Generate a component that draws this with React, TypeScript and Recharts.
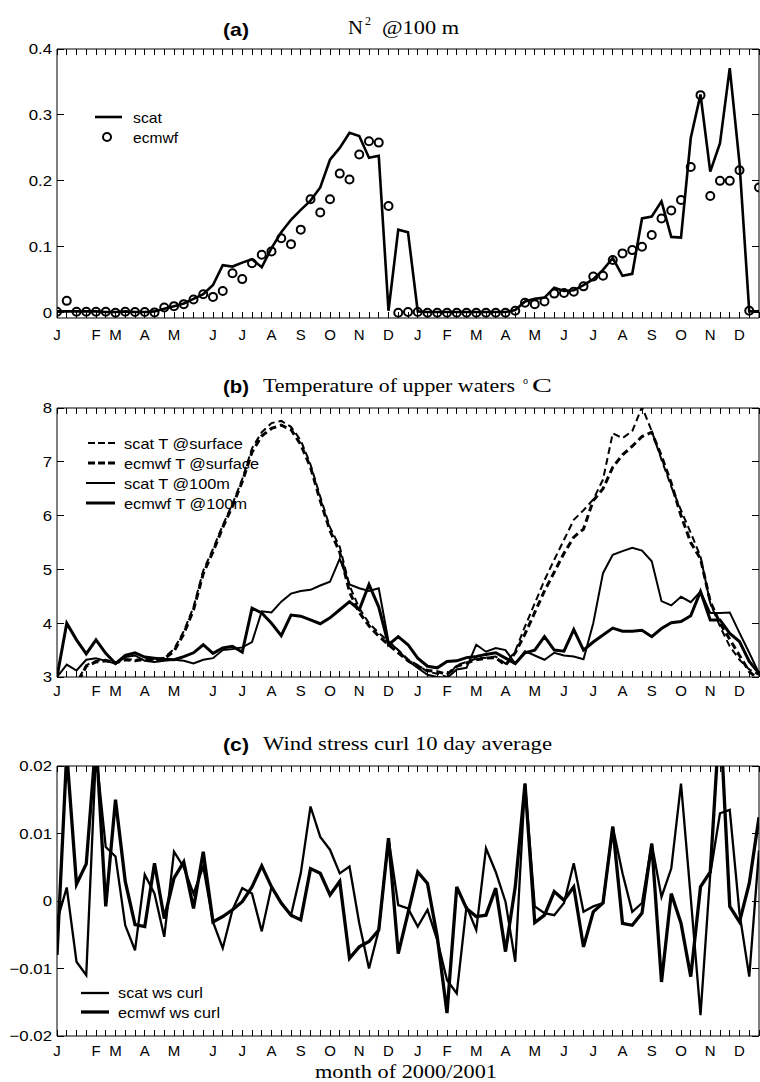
import React from 'react';
import { LineChart, Line, XAxis, YAxis } from 'recharts';

// ---- sample axis: one sample every 10 days, Jan 2000 .. Dec 2001 ----
const monthTicks = [
  { at: 0, label: 'J' }, { at: 4, label: 'F' }, { at: 6, label: 'M' }, { at: 9, label: 'A' },
  { at: 12, label: 'M' }, { at: 16, label: 'J' }, { at: 19, label: 'J' }, { at: 22, label: 'A' },
  { at: 25, label: 'S' }, { at: 28, label: 'O' }, { at: 31, label: 'N' }, { at: 34, label: 'D' },
  { at: 37, label: 'J' }, { at: 40, label: 'F' }, { at: 43, label: 'M' }, { at: 46, label: 'A' },
  { at: 49, label: 'M' }, { at: 52, label: 'J' }, { at: 55, label: 'J' }, { at: 58, label: 'A' },
  { at: 61, label: 'S' }, { at: 64, label: 'O' }, { at: 67, label: 'N' }, { at: 70, label: 'D' },
];

// ---- (a) N^2 @ 100 m ----
const scatN2 = [
  0.002, 0.002, 0.002, 0.002, 0.002, 0.001, 0.001, 0.002, 0.001, 0.001,
  0.002, 0.006, 0.01, 0.014, 0.021, 0.028, 0.042, 0.072, 0.07, 0.076,
  0.081, 0.069, 0.098, 0.122, 0.141, 0.156, 0.17, 0.19, 0.232, 0.25,
  0.273, 0.268, 0.235, 0.238, 0.003, 0.126, 0.122, 0.002, 0.001, 0.001,
  0.001, 0.001, 0.001, 0.001, 0.001, 0.001, 0.001, 0.004, 0.017, 0.021,
  0.023, 0.038, 0.033, 0.034, 0.042, 0.051, 0.065, 0.083, 0.056, 0.059,
  0.143, 0.146, 0.169, 0.115, 0.114, 0.265, 0.331, 0.214, 0.257, 0.371,
  0.227, 0.002, 0.002,
];
const ecmwfN2 = [
  0.0015, 0.018, 0.0015, 0.0015, 0.0015, 0.0015, 0.0, 0.0015, 0.001, 0.001,
  0.0005, 0.008, 0.01, 0.013, 0.02, 0.028, 0.024, 0.033, 0.06, 0.051,
  0.075, 0.088, 0.093, 0.113, 0.104, 0.126, 0.172, 0.152, 0.172, 0.211,
  0.202, 0.24, 0.26, 0.258, 0.162, 0.0, 0.001, 0.001, 0.0, 0.0,
  0.0, 0.0, 0.0, 0.0, 0.0, 0.0, 0.0, 0.003, 0.015, 0.013,
  0.017, 0.029, 0.03, 0.032, 0.04, 0.055, 0.056, 0.08, 0.09, 0.095,
  0.1, 0.118, 0.143, 0.155, 0.171, 0.221, 0.33, 0.177, 0.2, 0.2,
  0.216, 0.003, 0.19,
];
const n2Ticks = [0, 0.1, 0.2, 0.3, 0.4];
const n2Labels = ['0', '0.1', '0.2', '0.3', '0.4'];

// ---- (b) temperature of upper waters ----
const scatTSurf = [
  2.55, 2.65, 2.9, 3.22, 3.3, 3.32, 3.27, 3.33, 3.32, 3.34,
  3.32, 3.36, 3.52, 3.85, 4.3, 4.98, 5.38, 5.82, 6.22, 6.68,
  7.25, 7.55, 7.72, 7.76, 7.65, 7.4, 6.95, 6.35, 5.78, 5.42,
  4.7, 4.28, 4.0, 3.82, 3.66, 3.5, 3.33, 3.22, 3.1, 3.06,
  3.0, 3.22, 3.28, 3.34, 3.36, 3.38, 3.25, 3.48, 3.94, 4.37,
  4.8, 5.18, 5.55, 5.92, 6.1, 6.3, 6.67, 7.53, 7.44, 7.57,
  8.02, 7.57, 7.04, 6.54, 6.1, 5.68, 5.24, 4.37, 3.94, 3.57,
  3.32, 3.14, 3.04,
];
const ecmwfTSurf = [
  2.5, 2.6, 2.85, 3.2, 3.28, 3.3, 3.26, 3.32, 3.3, 3.33,
  3.3, 3.34, 3.48, 3.8, 4.25, 4.92, 5.33, 5.78, 6.18, 6.63,
  7.18, 7.48, 7.62, 7.68, 7.6, 7.32, 6.9, 6.28, 5.72, 5.32,
  4.58, 4.2, 3.95, 3.76, 3.6, 3.45, 3.3, 3.2, 3.12, 3.1,
  3.05, 3.2, 3.26, 3.32, 3.35, 3.36, 3.22, 3.45, 3.8, 4.2,
  4.6, 4.95, 5.3, 5.6, 5.75, 6.28, 6.5, 6.9, 7.13, 7.29,
  7.47, 7.55, 7.1, 6.6, 6.0, 5.5, 5.2, 4.4, 4.0, 3.7,
  3.4, 3.1, 2.95,
];
const scatT100 = [
  3.0, 3.23, 3.12, 3.32, 3.35, 3.3, 3.25, 3.37, 3.4, 3.3,
  3.28, 3.3, 3.32, 3.3, 3.25, 3.32, 3.35, 3.5, 3.52, 3.55,
  3.65, 4.22, 4.2, 4.4, 4.55, 4.6, 4.62, 4.7, 4.77, 5.2,
  4.72, 4.65, 4.6, 4.65, 3.66, 3.5, 3.3, 3.17, 3.04, 3.0,
  2.98, 3.14, 3.17, 3.6, 3.47, 3.54, 3.5, 3.25, 3.48, 3.4,
  3.32, 3.45, 3.4, 3.38, 3.33, 4.0, 4.93, 5.27, 5.34, 5.4,
  5.35, 5.15, 4.41, 4.33, 4.49, 4.39, 4.59, 4.19, 4.19, 4.2,
  3.82, 3.45, 3.07,
];
const ecmwfT100 = [
  3.0, 4.0, 3.69, 3.43, 3.69, 3.44, 3.25, 3.4, 3.45, 3.37,
  3.35, 3.33, 3.32, 3.38, 3.45, 3.6, 3.44, 3.54, 3.57, 3.46,
  4.28, 4.19, 4.0, 3.77, 4.15, 4.13, 4.06, 3.99, 4.1, 4.25,
  4.4, 4.25, 4.72, 4.3, 3.6, 3.75, 3.6, 3.35, 3.2, 3.17,
  3.29, 3.3, 3.36, 3.38, 3.42, 3.45, 3.35, 3.25, 3.45, 3.5,
  3.75, 3.5, 3.48, 3.88, 3.5, 3.65, 3.78, 3.91, 3.85, 3.85,
  3.87, 3.75, 3.9, 4.01, 4.03, 4.14, 4.59, 4.06, 4.06, 3.81,
  3.66, 3.29, 3.07,
];
const tempTicks = [3, 4, 5, 6, 7, 8];
const tempLabels = ['3', '4', '5', '6', '7', '8'];

// ---- (c) wind stress curl, 10 day average ----
const scatCurl = [
  -0.003, 0.002, -0.009, -0.011, 0.022, 0.008, 0.0066, -0.0036, -0.0073, 0.0039,
  0.0011, -0.0053, 0.0073, 0.005, 0.0011, 0.0051, -0.0031, -0.007, -0.0013, 0.0019,
  0.0011, -0.0045, 0.0021, -0.0003, -0.0021, 0.0041, 0.014, 0.0095, 0.0076, 0.0041,
  0.0051, -0.0033, -0.01, -0.0043, 0.0093, -0.0006, -0.0011, -0.0038, -0.0013, -0.0058,
  -0.0117, -0.0137, -0.0008, -0.0043, 0.0078, 0.0043, -0.0001, -0.009, 0.0174, -0.0008,
  -0.0018, -0.0021, -0.0003, 0.0056, -0.0016, -0.0008, -0.0003, 0.011, 0.0041, -0.0016,
  -0.0003, 0.0085, 0.0006, 0.0048, 0.0174, 0.0005, -0.0169, 0.004, 0.013, 0.0135,
  -0.0018, -0.0112, 0.0075,
];
const ecmwfCurl = [
  -0.008, 0.022, 0.0025, 0.0055, 0.024, -0.0008, 0.015, 0.0029, -0.0035, -0.0038,
  0.0056, -0.0026, 0.0034, 0.0058, -0.0011, 0.0073, -0.0031, -0.0023, -0.0013, -0.0001,
  0.0021, 0.0052, 0.0021, -0.0003, -0.0021, -0.0028, 0.0048, 0.0041, 0.0009, 0.0029,
  -0.0085, -0.0068, -0.006, -0.0043, 0.0093, -0.0078, -0.0018, 0.0043, 0.0026, -0.0053,
  -0.0166, 0.0021, -0.0011, -0.0023, -0.0021, 0.0019, -0.0075, 0.0021, 0.0174, -0.0032,
  -0.0021, 0.0014, 0.0001, 0.0021, -0.0068, -0.0016, -0.0003, 0.011, -0.0033, -0.0036,
  -0.0018, 0.0085, -0.012, 0.0011, -0.0033, -0.0112, 0.0021, 0.0043, 0.028, -0.0008,
  -0.0031, 0.0026, 0.0124,
];
const curlTicks = [-0.02, -0.01, 0, 0.01, 0.02];
const curlLabels = ['\u22120.02', '\u22120.01', '0', '0.01', '0.02'];

// ---- table rows for the charts ----
const sampleTicks = scatN2.map((_, i) => i);
const lastSample = sampleTicks[sampleTicks.length - 1];
const rowsA = scatN2.map((v, i) => ({ i, scat: v, ecmwf: ecmwfN2[i] }));
const rowsB = scatTSurf.map((v, i) => ({
  i, scatSurf: v, ecmwfSurf: ecmwfTSurf[i], scat100: scatT100[i], ecmwf100: ecmwfT100[i],
}));
const rowsC = scatCurl.map((v, i) => ({ i, scat: v, ecmwf: ecmwfCurl[i] }));

const SANS = '"Liberation Sans", Arial, Helvetica, sans-serif';
const SERIF = '"Liberation Serif", "Times New Roman", serif';
const AX = { stroke: '#000', strokeWidth: 1 };
const monthAt = new Map(monthTicks.map((m) => [m.at, m.label]));

// plot box geometry shared by the three panels
const PLOT_LEFT = 57;
const PLOT_W = 702;
const X_TICK_PX = 6;
const Y_TICK_PX = 7;
const Y_LABEL_GAP = 5;

const makeMonthTick = () => (props: any) => {
  const { x, y, payload } = props;
  const label = monthAt.get(payload.value);
  if (!label) return <g />;
  return (
    <text x={x} y={y} dy="0.71em" textAnchor="middle" fontFamily={SANS} fontSize={15} fill="#000">
      {label}
    </text>
  );
};

const makeLeftTick = (labels: string[]) => (props: any) => {
  const { x, y, index } = props;
  return (
    <text
      transform={`translate(${x} ${y}) scale(1.12 1)`}
      dy="0.36em"
      textAnchor="end"
      fontFamily={SANS}
      fontSize={15}
      fill="#000"
    >
      {labels[index]}
    </text>
  );
};

const NoTick = () => <g />;

// box frame axes: month labels below, value labels on the left, plain edges top/right
function frameAxes(yDomain: [number, number], yTicks: number[], labels: string[], monthGap: number) {
  return [
    <XAxis
      key="xb" xAxisId="b" dataKey="i" type="number" domain={[0, lastSample]} allowDataOverflow
      ticks={sampleTicks} interval={0} height={20} tickSize={0} tickMargin={monthGap}
      tick={makeMonthTick()} axisLine={AX} tickLine={false}
    />,
    <XAxis
      key="xt" xAxisId="t" orientation="top" dataKey="i" type="number" domain={[0, lastSample]}
      allowDataOverflow ticks={sampleTicks} interval={0} height={1} tickSize={0}
      tick={NoTick} axisLine={AX} tickLine={false}
    />,
    <YAxis
      key="yl" yAxisId="l" type="number" domain={yDomain} allowDataOverflow ticks={yTicks}
      interval={0} width={50} tickSize={0} tickMargin={Y_LABEL_GAP} tick={makeLeftTick(labels)}
      axisLine={AX} tickLine={false}
    />,
    <YAxis
      key="yr" yAxisId="r" orientation="right" type="number" domain={yDomain} allowDataOverflow
      ticks={yTicks} interval={0} width={1} tickSize={0} tick={NoTick} axisLine={AX} tickLine={false}
    />,
  ];
}

// inward tick marks around one plot box (frame decoration), snapped to whole pixels
function FrameTicks(p: { top: number; bottom: number; dom: [number, number]; vals: number[] }) {
  const { top, bottom, dom, vals } = p;
  const right = PLOT_LEFT + PLOT_W;
  const snap = (v: number) => Math.floor(v) + 0.5;
  const segs: string[] = [];
  sampleTicks.forEach((s) => {
    const x = snap(PLOT_LEFT + (s / lastSample) * PLOT_W);
    segs.push(`M${x},${top}V${top + X_TICK_PX}`);
    segs.push(`M${x},${bottom}V${bottom - X_TICK_PX}`);
  });
  vals.forEach((v) => {
    const y = snap(bottom - ((v - dom[0]) / (dom[1] - dom[0])) * (bottom - top));
    segs.push(`M${PLOT_LEFT},${y}H${PLOT_LEFT + Y_TICK_PX}`);
    segs.push(`M${right},${y}H${right - Y_TICK_PX}`);
  });
  return <path d={segs.join('')} stroke="#000" strokeWidth={1.2} fill="none" shapeRendering="crispEdges" />;
}

const ringDot = (p: any) => (
  <circle key={`r${p.index}`} cx={p.cx} cy={p.cy} r={4} fill="none" stroke="#000" strokeWidth={2} />
);

const T = (p: any) => {
  const { x, y, len, size, family = SANS, weight, children } = p;
  return (
    <text
      x={x} y={y} fontSize={size} fontFamily={family} fontWeight={weight} fill="#000"
      textLength={len} lengthAdjust="spacingAndGlyphs"
    >
      {children}
    </text>
  );
};

const domA: [number, number] = [-0.008, 0.4];
const domB: [number, number] = [3, 8];
const domC: [number, number] = [-0.02, 0.02];

export default function App() {
  return (
    <div style={{ position: 'absolute', left: 0, top: 0, width: 760, height: 1082, background: '#fff' }}>
      <div style={{ position: 'absolute', left: 0, top: 0 }}>
        <LineChart width={760} height={345} data={rowsA} margin={{ top: 48, right: 0, bottom: 7, left: 7 }}>
          {frameAxes(domA, n2Ticks, n2Labels, 11.4)}
          <Line xAxisId="b" yAxisId="l" dataKey="scat" stroke="#000" strokeWidth={2.6} dot={false} isAnimationActive={false} />
          <Line xAxisId="b" yAxisId="l" dataKey="ecmwf" stroke="none" strokeWidth={0} dot={ringDot} activeDot={false} isAnimationActive={false} />
        </LineChart>
      </div>

      <div style={{ position: 'absolute', left: 0, top: 345 }}>
        <LineChart width={760} height={358} data={rowsB} margin={{ top: 62, right: 0, bottom: 6, left: 7 }}>
          {frameAxes(domB, tempTicks, tempLabels, 8.4)}
          <Line xAxisId="b" yAxisId="l" dataKey="scatSurf" stroke="#000" strokeWidth={2} strokeDasharray="7 4" dot={false} isAnimationActive={false} />
          <Line xAxisId="b" yAxisId="l" dataKey="ecmwfSurf" stroke="#000" strokeWidth={3} strokeDasharray="7 4" dot={false} isAnimationActive={false} />
          <Line xAxisId="b" yAxisId="l" dataKey="scat100" stroke="#000" strokeWidth={2} dot={false} isAnimationActive={false} />
          <Line xAxisId="b" yAxisId="l" dataKey="ecmwf100" stroke="#000" strokeWidth={3} dot={false} isAnimationActive={false} />
        </LineChart>
      </div>

      <div style={{ position: 'absolute', left: 0, top: 703 }}>
        <LineChart width={760} height={358} data={rowsC} margin={{ top: 62, right: 0, bottom: 5, left: 7 }}>
          {frameAxes(domC, curlTicks, curlLabels, 9.4)}
          <Line xAxisId="b" yAxisId="l" dataKey="scat" stroke="#000" strokeWidth={2.3} dot={false} isAnimationActive={false} />
          <Line xAxisId="b" yAxisId="l" dataKey="ecmwf" stroke="#000" strokeWidth={3.3} dot={false} isAnimationActive={false} />
        </LineChart>
      </div>

      <svg width={760} height={1082} style={{ position: 'absolute', left: 0, top: 0, pointerEvents: 'none' }}>
        <FrameTicks top={49} bottom={318} dom={domA} vals={n2Ticks} />
        <FrameTicks top={408} bottom={677} dom={domB} vals={tempTicks} />
        <FrameTicks top={766} bottom={1036} dom={domC} vals={curlTicks} />

        {/* panel titles */}
        <T x={223} y={36} len={26} size={19} weight="bold">(a)</T>
        <T x={348} y={33.5} len={15} size={19} family={SERIF}>N</T>
        <T x={365} y={25} len={6} size={12} family={SERIF}>2</T>
        <T x={382} y={33.5} len={77} size={19} family={SERIF}>@100 m</T>

        <T x={223} y={393} len={26} size={19} weight="bold">(b)</T>
        <T x={263} y={392} len={252} size={19} family={SERIF}>Temperature of upper waters</T>
        <T x={523} y={384} len={5} size={11} family={SERIF}>o</T>
        <T x={532} y={392} len={20} size={19} family={SERIF}>C</T>

        <T x={223} y={751} len={26} size={19} weight="bold">(c)</T>
        <T x={263} y={750} len={289} size={19} family={SERIF}>Wind stress curl 10 day average</T>

        <T x={315} y={1078} len={182} size={19} family={SERIF}>month of 2000/2001</T>

        {/* legend (a) */}
        <line x1={95} y1={117} x2={122} y2={117} stroke="#000" strokeWidth={2.6} />
        <T x={133} y={123} len={29} size={15}>scat</T>
        <circle cx={107} cy={137} r={4} fill="none" stroke="#000" strokeWidth={2} />
        <T x={133} y={143} len={45} size={15}>ecmwf</T>

        {/* legend (b) */}
        <line x1={88} y1={443} x2={115} y2={443} stroke="#000" strokeWidth={2} strokeDasharray="7 3" />
        <T x={124} y={449} len={119} size={15}>scat T @surface</T>
        <line x1={88} y1={463} x2={115} y2={463} stroke="#000" strokeWidth={3} strokeDasharray="7 3" />
        <T x={124} y={469} len={135} size={15}>ecmwf T @surface</T>
        <line x1={86} y1={483} x2={115} y2={483} stroke="#000" strokeWidth={2} />
        <T x={124} y={489} len={106} size={15}>scat T @100m</T>
        <line x1={86} y1={503} x2={115} y2={503} stroke="#000" strokeWidth={3} />
        <T x={124} y={509} len={123} size={15}>ecmwf T @100m</T>

        {/* legend (c) */}
        <line x1={81} y1={993} x2={109} y2={993} stroke="#000" strokeWidth={2.3} />
        <T x={118} y={998} len={85} size={15}>scat ws curl</T>
        <line x1={81} y1={1012} x2={109} y2={1012} stroke="#000" strokeWidth={3.3} />
        <T x={118} y={1018} len={102} size={15}>ecmwf ws curl</T>
      </svg>
    </div>
  );
}
